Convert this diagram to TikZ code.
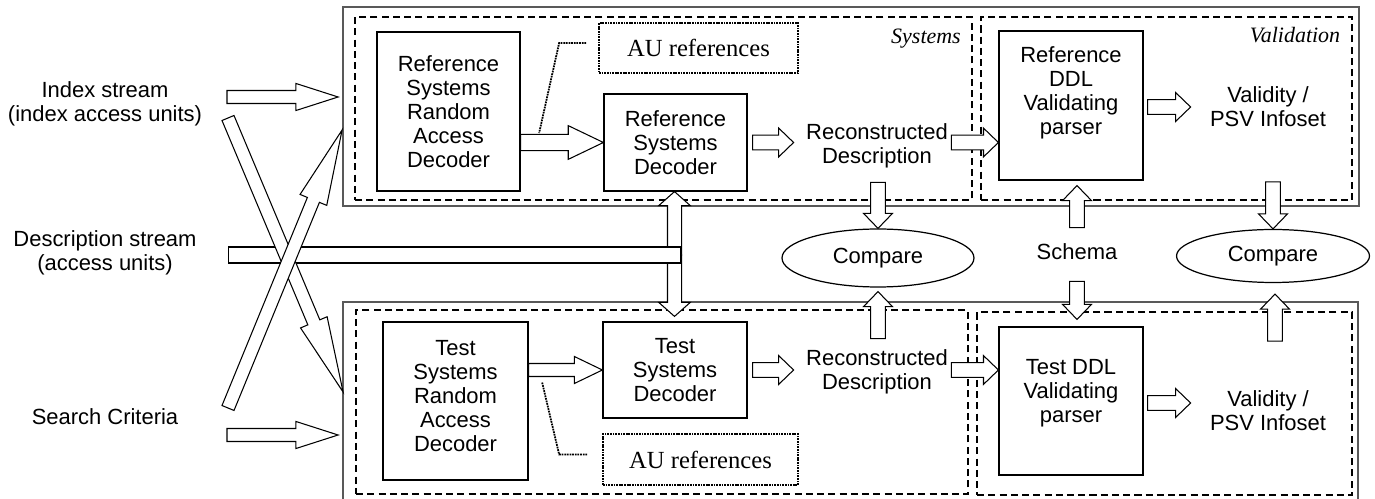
\documentclass[tikz,border=0pt]{standalone}
\usepackage{fontspec}
\setmainfont{Liberation Serif}
\setsansfont{Liberation Sans}
\usetikzlibrary{calc, positioning, shapes.geometric}

\tikzset{
    fat/.style n args={3}{draw, fill=white, line width=0.6pt, to path={
        let \p1=(\tikztostart), \p2=(\tikztotarget),
            \n1={atan2(\y2-\y1,\x2-\x1)}, \n2={veclen(\x2-\x1,\y2-\y1)} in
        [shift={(\p1)}, rotate=\n1]
        (0pt,-#1) -- ({\n2-#3},-#1) -- ({\n2-#3},-#2) -- (\n2,0pt)
        -- ({\n2-#3},#2) -- ({\n2-#3},#1) -- (0pt,#1) -- cycle}},
    bigarr/.style={fat={3.7pt}{7.7pt}{24pt}},
    feedarr/.style={fat={4.6pt}{9.6pt}{20pt}},
    feedarrb/.style={fat={3.7pt}{7.7pt}{16pt}},
    smallarr/.style={fat={4.2pt}{8.2pt}{8.5pt}},
    crossarr/.style={fat={3.7pt}{8.2pt}{43pt}},
    twoarr/.style={fat={4pt}{9pt}{8pt}},
    txt/.style={align=center, inner sep=0pt, font=\sffamily\fontsize{12.5}{13.6}\selectfont},
    box/.style={txt, draw, line width=0.7pt},
    outer/.style={draw=black!65, line width=0.8pt, inner sep=0pt, outer sep=0pt},
    dashbox/.style={draw, dash pattern=on 4pt off 2.4pt, line width=1.2pt, inner sep=0pt, outer sep=0pt},
    aubox/.style={draw, line width=1pt, dash pattern=on 1pt off 0.5pt, inner sep=0pt,
        font=\fontsize{14}{16}\selectfont},
    leader/.style={line width=1pt, dash pattern=on 1pt off 0.5pt},
    tag/.style={inner sep=0pt, font=\itshape\fontsize{12.5}{14}\selectfont},
    ell/.style={txt, draw, ellipse, line width=0.7pt}
}

\begin{document}
\begin{tikzpicture}[x=0.02cm, y=-0.02cm]
    \useasboundingbox (0,0) rectangle (1375,499);

    % frames
    \node[outer, minimum width=20.32cm, minimum height=3.98cm] (reftop) at (851,106.5) {};
    \node[outer, minimum width=20.3cm, minimum height=4.16cm] (testbot) at (850.5,406) {};
    \node[dashbox, minimum width=12.34cm, minimum height=3.66cm] (systop) at (663.5,108.5) {};
    \node[dashbox, minimum width=7.42cm, minimum height=3.66cm] (valtop) at (1166.5,108.5) {};
    \node[dashbox, minimum width=12.24cm, minimum height=3.68cm] (sysbot) at (662,402) {};
    \node[dashbox, minimum width=7.5cm, minimum height=3.66cm] (valbot) at (1164.5,403.5) {};
    \node[tag] (systag) at (926,39) {Systems};
    \node[tag] (valtag) at (1295,35) {Validation};

    % inputs
    \node[txt] (idx) at (105,104) {Index stream\\(index access units)};
    \node[txt] (desc) at (105,253) {Description stream\\(access units)};
    \node[txt] (srch) at (105,417) {Search Criteria};

    % reference chain
    \node[box, minimum width=2.86cm, minimum height=3.18cm] (rsra) at (448.5,111.5)
        {Reference\\Systems\\Random\\Access\\Decoder};
    \node[box, minimum width=2.86cm, minimum height=1.94cm] (rsd) at (675.5,142.5)
        {Reference\\Systems\\Decoder};
    \node[aubox, minimum width=3.98cm, minimum height=1cm] (auA) at (698.5,48) {AU references};
    \node[txt] (reconA) at (877,146) {Reconstructed\\Description};
    \node[box, minimum width=2.88cm, minimum height=2.98cm] (refp) at (1071,105.5) {};
    \node[txt] (refptxt) at ($(refp)+(0,-13)$) {Reference\\DDL\\Validating\\parser};
    \node[txt] (valA) at (1268,107) {Validity /\\PSV Infoset};

    % test chain
    \node[box, minimum width=2.9cm, minimum height=3.16cm] (tsra) at (455.5,401) {};
    \node[txt] (tsratxt) at ($(tsra)+(0,-5)$) {Test\\Systems\\Random\\Access\\Decoder};
    \node[box, minimum width=2.88cm, minimum height=1.92cm] (tsd) at (675,370)
        {Test\\Systems\\Decoder};
    \node[aubox, minimum width=3.9cm, minimum height=1.02cm] (auB) at (700.5,459.5) {AU references};
    \node[txt] (reconB) at (877,372) {Reconstructed\\Description};
    \node[box, minimum width=2.88cm, minimum height=2.96cm] (testp) at (1071,401) {};
    \node[txt] (testptxt) at ($(testp)+(0,-8)$) {Test DDL\\Validating\\parser};
    \node[txt] (valB) at (1268,411) {Validity /\\PSV Infoset};

    % comparison
    \node[ell, minimum width=3.84cm, minimum height=1.16cm] (cmpA) at (878,258) {Compare};
    \node[ell, minimum width=3.86cm, minimum height=1.06cm] (cmpB) at (1273,256) {Compare};
    \node[txt] (schema) at (1077,252) {Schema};

    % leaders
    \draw[leader] ($(auA.west)+(-12,-5)$) -- ++(-27,0) -- ++(-20,90);
    \draw[leader] ($(auB.west)+(-15,-5)$) -- ++(-28,0) -- ++(-17,-72);

    % description stream
    \coordinate (vmid) at (674.5,255);
    \draw[twoarr] (vmid) to (vmid |- rsd.south);
    \draw[twoarr] (vmid) to ($(vmid |- tsd.north)+(0,-5)$);
    \node[draw, fill=white, line width=0.6pt, minimum width=9.04cm, minimum height=0.32cm,
        inner sep=0pt, anchor=west] (descbar) at (228,255) {};

    % other inputs
    \coordinate (idxtail) at (227,97);
    \coordinate (srchtail) at (227,435);
    \coordinate (idxcross) at (228,118);
    \coordinate (srchcross) at (228,408);
    \draw[bigarr] (idxtail) to ($(reftop.west |- idxtail)+(-5,0)$);
    \draw[bigarr] (srchtail) to ($(testbot.west |- srchtail)+(-5,0)$);
    \draw[crossarr] (idxcross) to ($(testbot.west)+(0,-14)$);
    \draw[crossarr] (srchcross) to ($(reftop.west)+(-1,23.5)$);

    % flow
    \draw[feedarr] (rsra.east |- rsd.east) to (rsd.west);
    \draw[feedarrb] (tsra.east |- tsd.east) to (tsd.west);
    \draw[smallarr] ($(rsd.east)+(5,0)$) to ($(rsd.east)+(46,0)$);
    \draw[smallarr] ($(tsd.east)+(5,0)$) to ($(tsd.east)+(46,0)$);
    \draw[smallarr] ($(refp.west |- rsd.east)+(-47,0)$) to (refp.west |- rsd.east);
    \draw[smallarr] ($(testp.west |- tsd.east)+(-47,0)$) to (testp.west |- tsd.east);
    \draw[smallarr] ($(refp.east)+(4,1.5)$) to ($(refp.east)+(47,1.5)$);
    \draw[smallarr] ($(testp.east)+(4,2)$) to ($(testp.east)+(47,2)$);
    \draw[smallarr] ($(cmpA.north)+(0,-46)$) to (cmpA.north);
    \draw[smallarr] ($(cmpA.south)+(0,51)$) to ($(cmpA.south)+(0,4)$);
    \draw[smallarr] ($(refp.south)+(6,47)$) to ($(refp.south)+(6,5)$);
    \draw[smallarr] ($(testp.north)+(6,-45)$) to ($(testp.north)+(6,-7)$);
    \draw[smallarr] ($(cmpB.north)+(0,-47)$) to (cmpB.north);
    \draw[smallarr] ($(cmpB.south)+(2,58)$) to ($(cmpB.south)+(2,11)$);
\end{tikzpicture}
\end{document}
